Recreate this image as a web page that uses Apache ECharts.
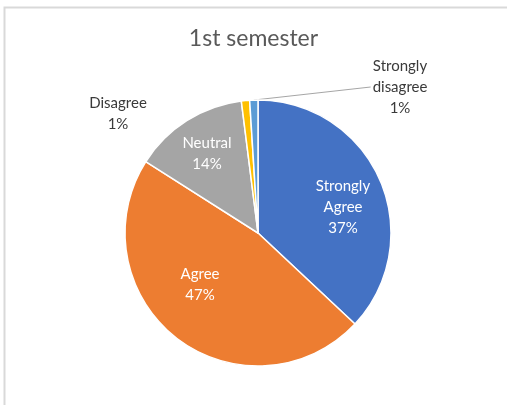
<!DOCTYPE html>
<html>
<head>
<meta charset="utf-8">
<script src="https://cdn.jsdelivr.net/npm/echarts@6/dist/echarts.min.js"></script>
<style>
  html, body { margin: 0; padding: 0; background: #fff; }
  #chart { width: 507px; height: 405px; }
</style>
</head>
<body>
<div id="chart"></div>
<script>
const categories = ['Strongly Agree', 'Agree', 'Neutral', 'Disagree', 'Strongly disagree']
const labelNames = ['Strongly\nAgree', 'Agree', 'Neutral', 'Disagree', 'Strongly\ndisagree']
const values = [37, 47, 14, 1, 1]
const sliceColors = ['#4472C4', '#ED7D31', '#A5A5A5', '#FFC000', '#5B9BD5']

// where each label sits (label centre, px)
const labelPos = [[343, 207], [200, 285], [207, 154], [118, 114], [400, 87]]
const FONT = 'Lato'

const chart = echarts.init(document.getElementById('chart'), null, { renderer: 'canvas' })

const pieData = categories.map((name, i) => {
    const outside = i >= 3
    return {
        name: name,
        value: values[i],
        itemStyle: { color: sliceColors[i] },
        label: {
            position: outside ? 'outside' : 'inside',
            color: outside ? '#3a3a3a' : '#ffffff',
            formatter: labelNames[i] + '\n{d}%'
        },
        labelLine: { show: i === 4 }
    }
})

chart.setOption({
    backgroundColor: '#ffffff',
    animation: false,
    title: {
        text: '1st semester',
        left: 'center',
        top: 22,
        textStyle: {
            color: '#595959',
            fontSize: 23,
            fontWeight: 'normal',
            fontFamily: FONT
        }
    },
    graphic: [{
        type: 'rect',
        shape: { x: 4.5, y: 7.5, width: 600, height: 500 },
        style: { fill: 'none', stroke: '#d9d9d9', lineWidth: 2 },
        silent: true
    }],
    series: [{
        type: 'pie',
        center: [258, 233],
        radius: 133,
        startAngle: 90,
        clockwise: true,
        avoidLabelOverlap: false,
        itemStyle: { borderColor: '#ffffff', borderWidth: 1.5 },
        label: {
            fontSize: 15,
            lineHeight: 21,
            fontFamily: FONT,
            align: 'center'
        },
        labelLine: {
            length: 10,
            length2: 10,
            lineStyle: { color: '#a6a6a6', width: 1 }
        },
        labelLayout: params => {
            const [x, y] = labelPos[params.dataIndex]
            const layout = { x: x, y: y, align: 'center', verticalAlign: 'middle' }
            if (params.labelLinePoints && params.dataIndex === 4) {
                const start = params.labelLinePoints[0]
                const end = [x - params.labelRect.width / 2 - 2, y]
                layout.labelLinePoints = [start, end, end]
            }
            return layout
        },
        data: pieData
    }]
})
</script>
</body>
</html>
